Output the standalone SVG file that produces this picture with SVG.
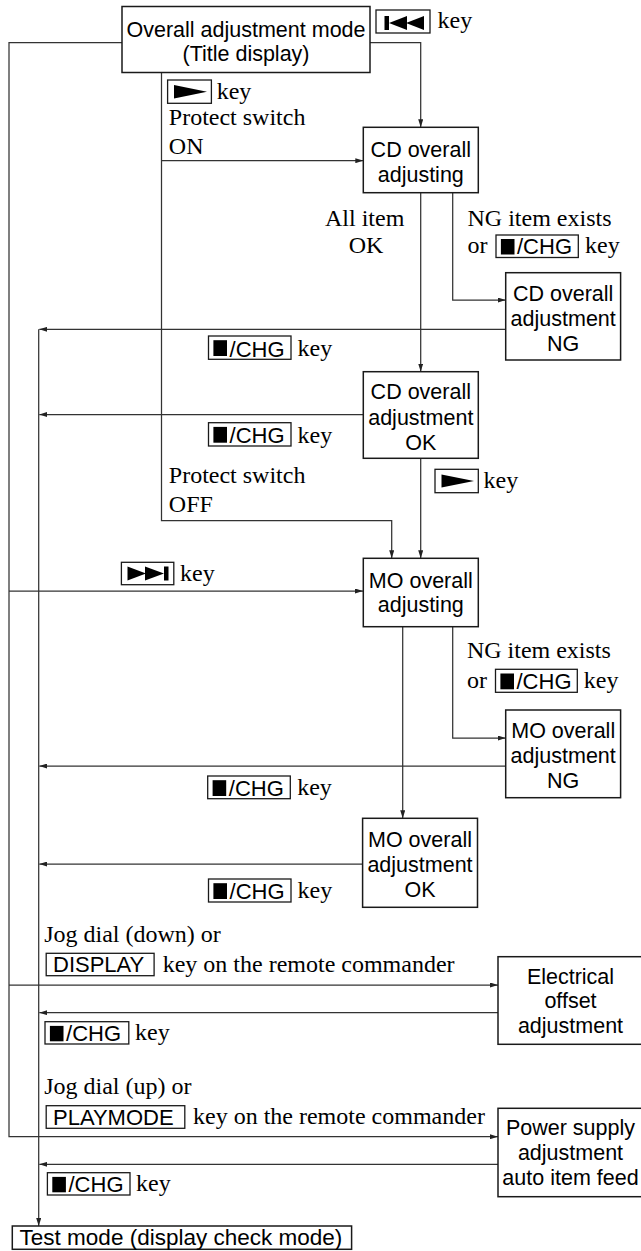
<svg xmlns="http://www.w3.org/2000/svg" width="641" height="1251" viewBox="0 0 641 1251">
<defs>
<marker id="ah" markerUnits="userSpaceOnUse" markerWidth="8" markerHeight="5" refX="8" refY="2.5" orient="auto">
<path d="M0,0 L8,2.5 L0,5 z" fill="#222"/>
</marker>
<style>
.node rect{fill:#fff;stroke:#1a1a1a;stroke-width:1.5}
.nt{font-family:"Liberation Sans",Arial,sans-serif;font-size:21.5px;fill:#000;text-anchor:middle}
.lbl{font-family:"Liberation Serif","Times New Roman",serif;font-size:24px;fill:#000}
.kb{fill:#fff;stroke:#1a1a1a;stroke-width:1.3}
.kt{font-family:"Liberation Sans",Arial,sans-serif;font-size:22px;fill:#000}
.ic{fill:#000}
.conn path{fill:none;stroke:#333;stroke-width:1.25}
.conn path.a{marker-end:url(#ah)}
</style>
</defs>
<rect width="641" height="1251" fill="#fff"/>

<g class="conn" id="connectors">
<path d="M122,42.7 H9 V1136.7 H498" class="a"/>
<path d="M9,591 H363" class="a"/>
<path d="M9,985 H498" class="a"/>
<path d="M370,42.7 H420.7 V127.3" class="a"/>
<path d="M161.5,72.5 V520.7 H391.7 V558.3" class="a"/>
<path d="M161.5,160.7 H363.3" class="a"/>
<path d="M420.7,192.7 V371.7" class="a"/>
<path d="M452.7,192.7 V300 H505.7" class="a"/>
<path d="M38.7,329.3 V1226" class="a"/>
<path d="M505.7,329.3 H39.3" class="a"/>
<path d="M363,414.5 H39.3" class="a"/>
<path d="M420.7,458.3 V558.3" class="a"/>
<path d="M402.7,626.7 V818.3" class="a"/>
<path d="M452.7,626.7 V738 H505.7" class="a"/>
<path d="M505.7,766 H39.3" class="a"/>
<path d="M362.6,864 H39.3" class="a"/>
<path d="M498,1012.7 H39.3" class="a"/>
<path d="M498,1164.3 H39.3" class="a"/>
</g>

<g id="n-overall" class="node">
<rect x="122" y="6.5" width="248" height="66"/>
<text class="nt" x="246" y="36.7">Overall adjustment mode</text>
<text class="nt" x="246" y="61">(Title display)</text>
</g>
<g id="n-cd-adjusting" class="node">
<rect x="363.3" y="127.3" width="115" height="65.4"/>
<text class="nt" x="420.8" y="156.7">CD overall</text>
<text class="nt" x="420.8" y="181.5">adjusting</text>
</g>
<g id="n-cd-ng" class="node">
<rect x="505.7" y="272.7" width="114.9" height="87.3"/>
<text class="nt" x="563.2" y="300.5">CD overall</text>
<text class="nt" x="563.2" y="325.5">adjustment</text>
<text class="nt" x="563.2" y="351">NG</text>
</g>
<g id="n-cd-ok" class="node">
<rect x="363.3" y="371.7" width="115" height="86.6"/>
<text class="nt" x="420.8" y="399.3">CD overall</text>
<text class="nt" x="420.8" y="424.5">adjustment</text>
<text class="nt" x="420.8" y="450">OK</text>
</g>
<g id="n-mo-adjusting" class="node">
<rect x="363.3" y="558.3" width="115" height="68.4"/>
<text class="nt" x="420.8" y="588">MO overall</text>
<text class="nt" x="420.8" y="611.7">adjusting</text>
</g>
<g id="n-mo-ng" class="node">
<rect x="505.7" y="710" width="114.9" height="87.7"/>
<text class="nt" x="563.2" y="737.7">MO overall</text>
<text class="nt" x="563.2" y="762.7">adjustment</text>
<text class="nt" x="563.2" y="788.3">NG</text>
</g>
<g id="n-mo-ok" class="node">
<rect x="362.6" y="818.3" width="114.9" height="89"/>
<text class="nt" x="420" y="847">MO overall</text>
<text class="nt" x="420" y="872">adjustment</text>
<text class="nt" x="420" y="897.3">OK</text>
</g>
<g id="n-electrical" class="node">
<rect x="498" y="956.7" width="146" height="87.6"/>
<text class="nt" x="570.5" y="984">Electrical</text>
<text class="nt" x="570.5" y="1008">offset</text>
<text class="nt" x="570.5" y="1033.3">adjustment</text>
</g>
<g id="n-power" class="node">
<rect x="498" y="1108.3" width="146" height="88.4"/>
<text class="nt" x="570.5" y="1135">Power supply</text>
<text class="nt" x="570.5" y="1160">adjustment</text>
<text class="nt" x="570.5" y="1184.5">auto item feed</text>
</g>
<g id="n-test" class="node">
<rect x="12.3" y="1226" width="339.3" height="23.3"/>
<text class="kt" x="19.6" y="1245.3" style="font-size:22.5px">Test mode (display check mode)</text>
</g>

<g id="labels">
<rect class="kb" x="376" y="10" width="54" height="23"/>
<rect class="ic" x="384.5" y="16" width="4.5" height="14"/>
<polygon class="ic" points="389,23 407,16 407,30"/>
<polygon class="ic" points="406,23 424,16 424,30"/>
<text class="lbl" x="437.5" y="28">key</text>

<rect class="kb" x="167.6" y="80" width="43.8" height="23.3"/>
<polygon class="ic" points="174,85 207,91.7 174,98.5"/>
<text class="lbl" x="216.7" y="99">key</text>
<text class="lbl" x="168.8" y="125">Protect switch</text>
<text class="lbl" x="168.8" y="154">ON</text>

<text class="lbl" x="364.7" y="226" text-anchor="middle">All item</text>
<text class="lbl" x="366" y="253.3" text-anchor="middle">OK</text>

<text class="lbl" x="467.5" y="226">NG item exists</text>
<text class="lbl" x="467.5" y="253.3">or</text>
<rect class="kb" x="496" y="235" width="82.3" height="22.5"/>
<rect class="ic" x="500.9" y="239" width="13.6" height="15.5"/>
<text class="kt" x="517" y="254.3">/CHG</text>
<text class="lbl" x="585" y="253.3">key</text>

<rect class="kb" x="208.5" y="336" width="82.5" height="23.3"/>
<rect class="ic" x="213.4" y="340.2" width="13.6" height="15.8"/>
<text class="kt" x="229.6" y="356.5">/CHG</text>
<text class="lbl" x="297.6" y="356">key</text>

<rect class="kb" x="208.5" y="422.7" width="82.5" height="23.3"/>
<rect class="ic" x="213.4" y="426.9" width="13.6" height="15.8"/>
<text class="kt" x="229.6" y="443.2">/CHG</text>
<text class="lbl" x="297.6" y="442.7">key</text>

<text class="lbl" x="168.8" y="483.3">Protect switch</text>
<text class="lbl" x="168.8" y="512.3">OFF</text>

<rect class="kb" x="435" y="469.3" width="43.3" height="23.4"/>
<polygon class="ic" points="441.5,474.5 474,481 441.5,487.5"/>
<text class="lbl" x="483.6" y="488.3">key</text>

<rect class="kb" x="121.4" y="562.3" width="52.4" height="22.4"/>
<polygon class="ic" points="127.5,566.5 146,573.5 127.5,580.5"/>
<polygon class="ic" points="145,566.5 164,573.5 145,580.5"/>
<rect class="ic" x="164" y="566.5" width="4.5" height="14"/>
<text class="lbl" x="180" y="580.7">key</text>

<text class="lbl" x="466.9" y="658.3">NG item exists</text>
<text class="lbl" x="466.9" y="688.3">or</text>
<rect class="kb" x="495.5" y="669.3" width="81.8" height="23"/>
<rect class="ic" x="500.4" y="673.5" width="13.6" height="15.8"/>
<text class="kt" x="516.5" y="689.3">/CHG</text>
<text class="lbl" x="583.8" y="688.3">key</text>

<rect class="kb" x="207.7" y="776" width="82.6" height="22.7"/>
<rect class="ic" x="212.6" y="780.2" width="13.6" height="15.8"/>
<text class="kt" x="228.8" y="795.6">/CHG</text>
<text class="lbl" x="297.2" y="795">key</text>

<rect class="kb" x="208.5" y="879" width="82.5" height="23"/>
<rect class="ic" x="213.4" y="883.2" width="13.6" height="15.8"/>
<text class="kt" x="229.6" y="899">/CHG</text>
<text class="lbl" x="297.6" y="897.7">key</text>

<text class="lbl" x="44.2" y="941.7">Jog dial (down) or</text>
<rect class="kb" x="46.2" y="953.3" width="107.9" height="22.4"/>
<text class="kt" x="53" y="972">DISPLAY</text>
<text class="lbl" x="162.7" y="971.7">key on the remote commander</text>

<rect class="kb" x="45" y="1021.7" width="83.8" height="22.3"/>
<rect class="ic" x="49.9" y="1025.9" width="13.6" height="15.4"/>
<text class="kt" x="66.1" y="1041">/CHG</text>
<text class="lbl" x="135" y="1040">key</text>

<text class="lbl" x="44.2" y="1094">Jog dial (up) or</text>
<rect class="kb" x="46.2" y="1105.7" width="138.6" height="22.6"/>
<text class="kt" x="53" y="1124.5">PLAYMODE</text>
<text class="lbl" x="193" y="1124">key on the remote commander</text>

<rect class="kb" x="47.4" y="1172.7" width="82.6" height="22.3"/>
<rect class="ic" x="52.3" y="1176.9" width="13.6" height="15.4"/>
<text class="kt" x="68.5" y="1192">/CHG</text>
<text class="lbl" x="136" y="1190.7">key</text>
</g>
</svg>
